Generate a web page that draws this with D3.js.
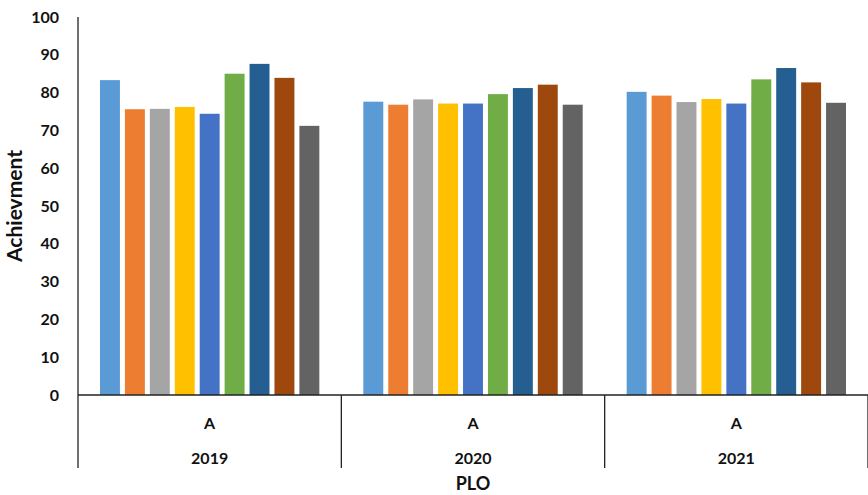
<!DOCTYPE html>
<html>
<head>
<meta charset="utf-8">
<script src="https://cdn.jsdelivr.net/npm/d3@7"></script>
<style>
  html, body { margin: 0; padding: 0; background: #fff; }
  svg text { font-family: Lato, "Open Sans", sans-serif; font-weight: bold; fill: #111; }
</style>
</head>
<body>
<svg id="chart" width="868" height="495"></svg>
<script>
// Achievement per PLO, grouped by year
const years = ["2019", "2020", "2021"];
const subLabels = ["A", "A", "A"];
const seriesNames = ["S1", "S2", "S3", "S4", "S5", "S6", "S7", "S8", "S9"];
const seriesColors = ["#5B9BD5", "#ED7D31", "#A5A5A5", "#FFC000", "#4472C4", "#70AD47", "#255E91", "#9E480E", "#636363"];
const values2019 = [83.3, 75.6, 75.7, 76.2, 74.4, 85.0, 87.6, 83.9, 71.2];
const values2020 = [77.6, 76.8, 78.2, 77.1, 77.1, 79.6, 81.2, 82.1, 76.8];
const values2021 = [80.2, 79.2, 77.5, 78.3, 77.1, 83.5, 86.5, 82.7, 77.3];
const yTicks = [0, 10, 20, 30, 40, 50, 60, 70, 80, 90, 100];

const valuesByYear = [values2019, values2020, values2021];

const svg = d3.select("#chart");
const margin = { left: 78, top: 17, plotBottom: 395, catBottom: 468 };
const width = 868;

const x0 = d3.scaleBand().domain(years).range([margin.left, width]).padding(0);
const x1 = d3.scaleBand().domain(seriesNames)
  .range([22, x0.bandwidth() - 22]).paddingInner(0.2).paddingOuter(0);
const y = d3.scaleLinear().domain([0, 100]).range([margin.plotBottom, margin.top]);

// Bars
const groups = svg.append("g").selectAll("g")
  .data(years.map((yr, i) => ({ year: yr, vals: valuesByYear[i] })))
  .join("g")
  .attr("transform", d => `translate(${x0(d.year)},0)`);

groups.selectAll("rect")
  .data(d => d.vals.map((v, j) => ({ name: seriesNames[j], value: v, color: seriesColors[j] })))
  .join("rect")
  .attr("x", d => x1(d.name))
  .attr("width", x1.bandwidth())
  .attr("y", d => y(d.value))
  .attr("height", d => y(0) - y(d.value))
  .attr("fill", d => d.color);

// Y axis (no tick marks, bold labels)
const yAxis = d3.axisLeft(y).tickValues(yTicks).tickSize(0).tickPadding(19);
const gy = svg.append("g").attr("transform", `translate(${margin.left},0)`).call(yAxis);
gy.select(".domain").remove();
gy.selectAll("text")
  .style("font-size", "16px")
  .style("font-family", "Lato, sans-serif")
  .style("font-weight", "bold")
  .style("fill", "#111");

const axisColor = "#222";
// vertical axis line, running through the category band
svg.append("line")
  .attr("x1", margin.left).attr("x2", margin.left)
  .attr("y1", margin.top).attr("y2", margin.catBottom)
  .attr("stroke", axisColor).attr("stroke-width", 1.3);
// horizontal baseline
svg.append("line")
  .attr("x1", margin.left).attr("x2", width)
  .attr("y1", y(0)).attr("y2", y(0))
  .attr("stroke", axisColor).attr("stroke-width", 1.3);
// group separators
svg.append("g").selectAll("line")
  .data(years)
  .join("line")
  .attr("x1", d => x0(d) + x0.bandwidth()).attr("x2", d => x0(d) + x0.bandwidth())
  .attr("y1", y(0)).attr("y2", margin.catBottom)
  .attr("stroke", axisColor).attr("stroke-width", 1.3);

// Category labels
const cat = svg.append("g");
cat.selectAll("text.sub")
  .data(years)
  .join("text")
  .attr("class", "sub")
  .attr("x", d => x0(d) + x0.bandwidth() / 2)
  .attr("y", 429)
  .attr("text-anchor", "middle")
  .style("font-size", "16px")
  .text((d, i) => subLabels[i]);
cat.selectAll("text.yr")
  .data(years)
  .join("text")
  .attr("class", "yr")
  .attr("x", d => x0(d) + x0.bandwidth() / 2)
  .attr("y", 464)
  .attr("text-anchor", "middle")
  .style("font-size", "16px")
  .text(d => d);

// Axis titles
svg.append("text")
  .attr("x", (margin.left + width) / 2)
  .attr("y", 490)
  .attr("text-anchor", "middle")
  .style("font-size", "18px")
  .text("PLO");
svg.append("text")
  .attr("transform", `translate(22,${(margin.top + margin.plotBottom) / 2}) rotate(-90)`)
  .attr("text-anchor", "middle")
  .style("font-size", "21px")
  .text("Achievment");
</script>
</body>
</html>
